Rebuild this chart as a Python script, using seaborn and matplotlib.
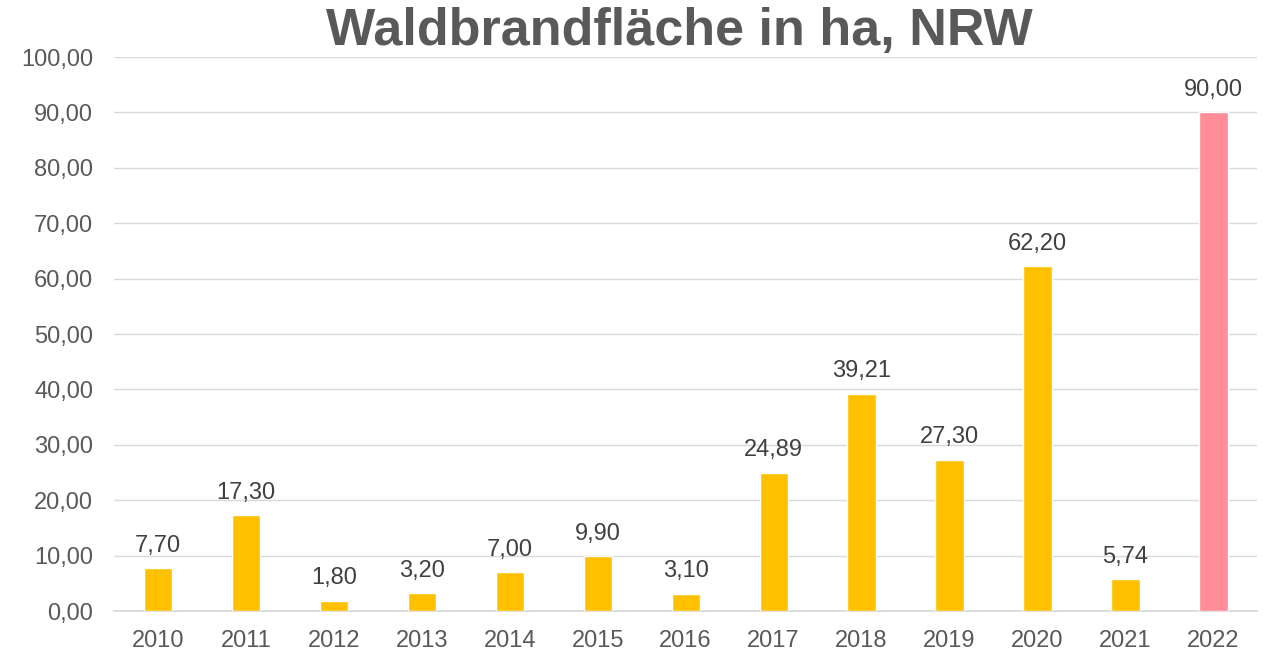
import matplotlib
matplotlib.use("Agg")
import matplotlib.pyplot as plt
import seaborn as sns
import pandas as pd

years = ["2010", "2011", "2012", "2013", "2014", "2015", "2016",
         "2017", "2018", "2019", "2020", "2021", "2022"]
values = [7.70, 17.30, 1.80, 3.20, 7.00, 9.90, 3.10,
          24.89, 39.21, 27.30, 62.20, 5.74, 90.00]
bar_colors = ["#FFC000"] * 12 + ["#FF8C96"]
title = "Waldbrandfläche in ha, NRW"

sns.set_theme(style="white")
plt.rcParams['font.family'] = ['Liberation Sans', 'DejaVu Sans']

df = pd.DataFrame({"year": years, "value": values})

fig = plt.figure(figsize=(12.65, 6.53), dpi=100)
ax = fig.add_axes([0.090, 0.0643, 0.904, 0.8484])

sns.barplot(data=df, x="year", y="value", hue="year",
            palette=dict(zip(years, bar_colors)), legend=False,
            width=0.32, saturation=1, ax=ax, zorder=3)

ax.set_ylim(0, 100)
ax.set_yticks(range(0, 101, 10))
ax.set_yticklabels([f"{v:.2f}".replace(".", ",") for v in range(0, 101, 10)])
ax.set_xlim(-0.5, len(years) - 0.5)
ax.grid(axis="y", color="#D9D9D9", linewidth=1, zorder=0)
ax.set_axisbelow(True)
for s in ["top", "right", "left"]:
    ax.spines[s].set_visible(False)
ax.spines["bottom"].set_color("#D9D9D9")
ax.tick_params(axis="both", length=0, labelsize=17, colors="#595959")
ax.tick_params(axis="x", pad=14)
ax.tick_params(axis="y", pad=15)
ax.set_xlabel("")
ax.set_ylabel("")

for i, v in enumerate(values):
    ax.text(i, v + 2.1, f"{v:.2f}".replace(".", ","), ha="center", va="bottom",
            fontsize=17, color="#404040")

fig.text(0.537, 0.952, title, ha="center", va="center", fontsize=37.5,
         fontweight="bold", color="#595959")

fig.savefig("out.png", dpi=100)
